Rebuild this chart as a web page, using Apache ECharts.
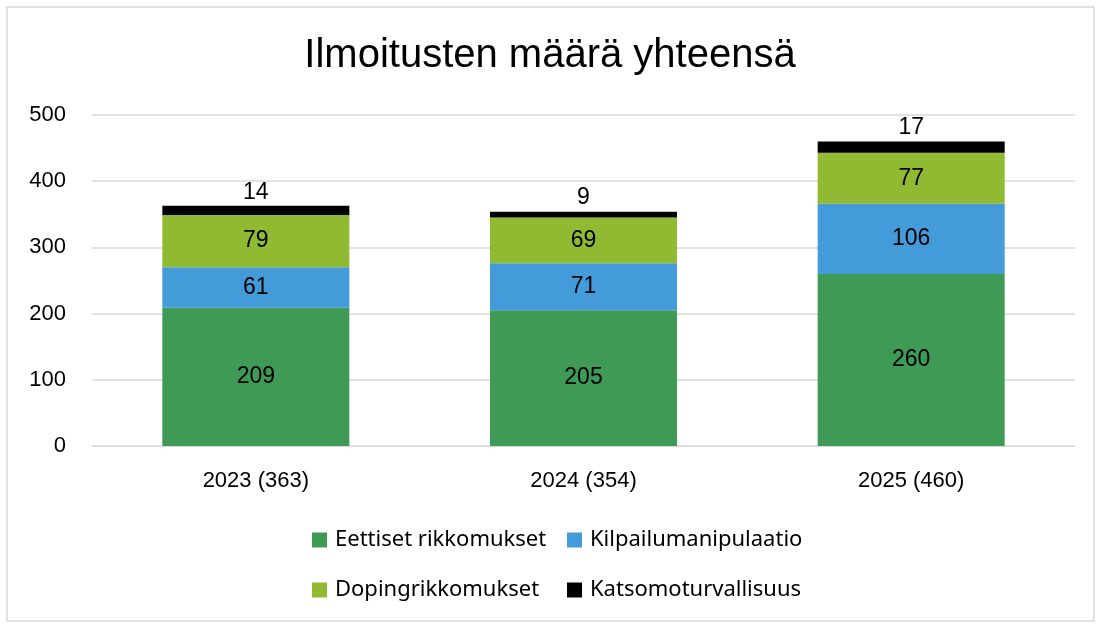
<!DOCTYPE html>
<html>
<head>
<meta charset="utf-8">
<script src="https://cdn.jsdelivr.net/npm/echarts@6/dist/echarts.min.js"></script>
<style>
  html, body { margin: 0; padding: 0; background: #fff; }
  #chart { width: 1100px; height: 626px; }
</style>
</head>
<body>
<div id="chart"></div>
<script>
// data
const years = ["2023 (363)", "2024 (354)", "2025 (460)"]
const eettiset = [209, 205, 260]
const kilpailu = [61, 71, 106]
const doping = [79, 69, 77]
const katsomo = [14, 9, 17]

const seriesNames = ["Eettiset rikkomukset", "Kilpailumanipulaatio", "Dopingrikkomukset", "Katsomoturvallisuus"]
const colors = ["#3e9a55", "#439bd9", "#8fba31", "#000000"]

const chart = echarts.init(document.getElementById("chart"))

const labelFont = { fontFamily: "Liberation Sans", fontSize: 23, color: "#000" }
const axisFont = { fontFamily: "Liberation Sans", fontSize: 22, color: "#000" }
const legendFont = { fontFamily: "Noto Sans", fontSize: 22, color: "#000" }

function legendAt(name, left, top) {
  return {
    data: [name],
    left: left,
    top: top,
    padding: 0,
    itemWidth: 15,
    itemHeight: 15,
    itemGap: 0,
    icon: "rect",
    textStyle: { ...legendFont, padding: [0, 0, 0, 3] },
    selectedMode: false
  }
}

function bar(i, data, pos) {
  return {
    name: seriesNames[i],
    type: "bar",
    stack: "total",
    barWidth: 187,
    itemStyle: { color: colors[i] },
    label: {
      show: true,
      position: pos,
      distance: 2,
      ...labelFont
    },
    data: data
  }
}

chart.setOption({
  animation: false,
  title: {
    text: "Ilmoitusten määrä yhteensä",
    left: "center",
    top: 31,
    textStyle: { fontFamily: "Liberation Sans", fontSize: 40, fontWeight: "normal", color: "#000" }
  },
  legend: [
    legendAt(seriesNames[0], 312, 529),
    legendAt(seriesNames[1], 567, 529),
    legendAt(seriesNames[2], 312, 579),
    legendAt(seriesNames[3], 567, 579)
  ],
  grid: { left: 92, right: 25, top: 115, bottom: 180 },
  xAxis: {
    type: "category",
    data: years,
    axisLine: { lineStyle: { color: "#d9d9d9" } },
    axisTick: { show: false },
    axisLabel: { ...axisFont, margin: 24 }
  },
  yAxis: {
    type: "value",
    min: 0,
    max: 500,
    interval: 100,
    axisLine: { show: false },
    axisTick: { show: false },
    splitLine: { lineStyle: { color: "#d9d9d9", width: 1.5 } },
    axisLabel: { ...axisFont, margin: 26 }
  },
  graphic: [{
    type: "rect",
    shape: { x: 7, y: 7, width: 1087, height: 614 },
    style: { fill: "none", stroke: "#d9d9d9", lineWidth: 1.5 },
    silent: true
  }],
  series: [
    bar(0, eettiset, "inside"),
    bar(1, kilpailu, "inside"),
    bar(2, doping, "inside"),
    bar(3, katsomo, "top")
  ]
})
</script>
</body>
</html>
